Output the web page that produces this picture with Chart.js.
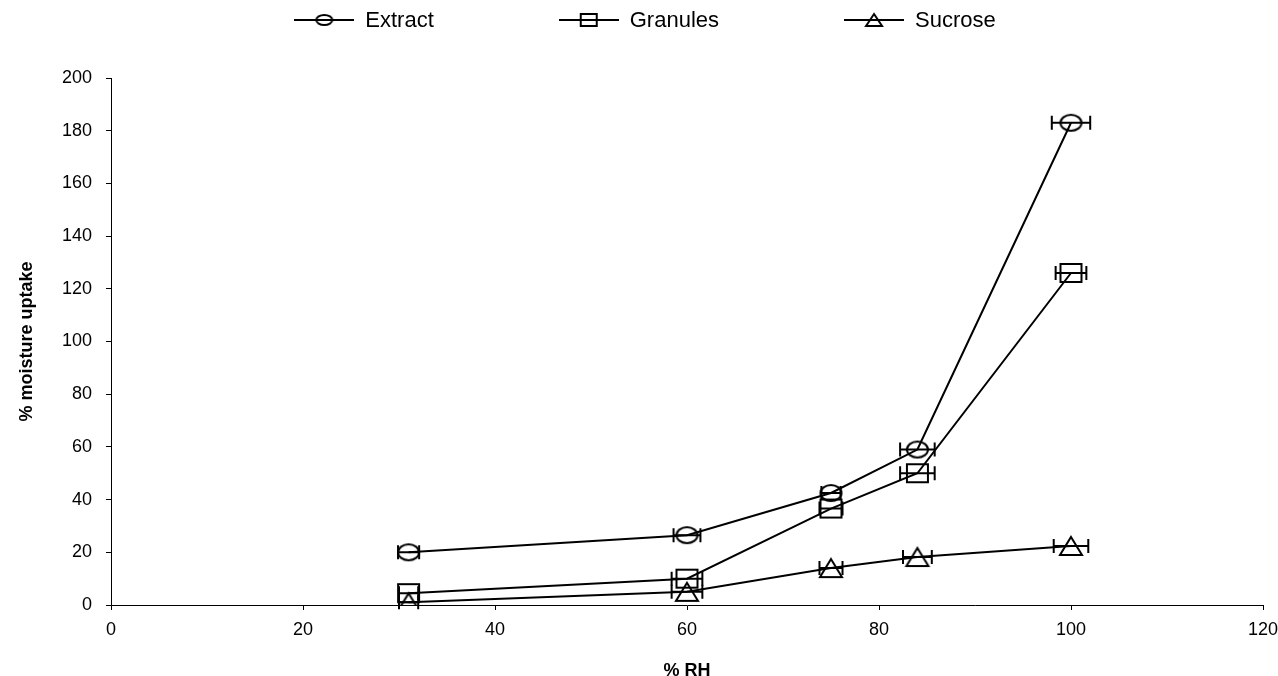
<!DOCTYPE html>
<html>
<head>
<meta charset="utf-8">
<script src="https://cdn.jsdelivr.net/npm/chart.js@4.4.1/dist/chart.umd.min.js"></script>
<style>
html,body{margin:0;padding:0;background:#fff;}
#wrap{width:1278px;height:676px;position:relative;}
</style>
</head>
<body>
<div id="wrap"><canvas id="c" width="1278" height="676"></canvas></div>
<script>
// ---- data ----
const rhValues = [31, 60, 75, 84, 100];
const extractUptake = [20, 26.5, 42.5, 59, 183];
const granulesUptake = [4.5, 10, 36.6, 50, 126];
const sucroseUptake = [1, 5, 14, 18.2, 22.4];
const extractRhErr = [1.1, 1.4, 1.0, 1.8, 2.0];
const granulesRhErr = [1.0, 1.6, 1.2, 1.8, 1.6];
const sucroseRhErr = [1.0, 1.6, 1.2, 1.5, 1.8];
const seriesLabels = ['Extract', 'Granules', 'Sucrose'];
const xTickValues = [0, 20, 40, 60, 80, 100, 120];
const yTickValues = [0, 20, 40, 60, 80, 100, 120, 140, 160, 180, 200];

const FONT = '"Liberation Sans", Arial, sans-serif';

function makeMarker(shape, w, h, lw, lineLen) {
  const cw = lineLen || (w + lw * 2 + 2);
  const ch = h + lw * 2 + 2;
  const cv = document.createElement('canvas');
  cv.width = cw; cv.height = ch;
  const g = cv.getContext('2d');
  g.strokeStyle = '#000';
  g.lineWidth = lw;
  const cx = cw / 2, cy = ch / 2;
  if (lineLen) {
    g.beginPath(); g.moveTo(0, cy); g.lineTo(cw, cy); g.stroke();
  }
  g.beginPath();
  if (shape === 'ellipse') {
    g.ellipse(cx, cy, w / 2, h / 2, 0, 0, Math.PI * 2);
  } else if (shape === 'rect') {
    g.rect(cx - w / 2, cy - h / 2, w, h);
  } else {
    g.moveTo(cx, cy - h / 2);
    g.lineTo(cx + w / 2, cy + h / 2);
    g.lineTo(cx - w / 2, cy + h / 2);
    g.closePath();
  }
  g.stroke();
  return cv;
}

const plotMarkers = [makeMarker('ellipse', 21, 16, 2), makeMarker('rect', 21, 18, 2), makeMarker('triangle', 22, 18, 2)];
const legendMarkers = [makeMarker('ellipse', 16, 10, 2, 60), makeMarker('rect', 16, 12, 2, 60), makeMarker('triangle', 16, 12, 2, 60)];

function pts(ys) { return rhValues.map((x, i) => ({x: x, y: ys[i]})); }

const errArrays = [extractRhErr, granulesRhErr, sucroseRhErr];
const valueArrays = [extractUptake, granulesUptake, sucroseUptake];

const datasets = seriesLabels.map((lab, i) => ({
  label: lab,
  data: pts(valueArrays[i]),
  borderColor: '#000',
  backgroundColor: 'transparent',
  borderWidth: 2,
  tension: 0,
  pointStyle: plotMarkers[i],
  pointRadius: 10,
  pointHoverRadius: 10,
  xErr: errArrays[i],
  legendMarker: legendMarkers[i]
}));

const errorBarPlugin = {
  id: 'xErrorBars',
  afterDatasetsDraw(chart) {
    const ctx = chart.ctx;
    const xs = chart.scales.x;
    ctx.save();
    ctx.strokeStyle = '#000';
    ctx.lineWidth = 2;
    chart.data.datasets.forEach((ds, di) => {
      const meta = chart.getDatasetMeta(di);
      ds.data.forEach((p, j) => {
        const e = ds.xErr[j];
        const y = meta.data[j].y;
        const x1 = xs.getPixelForValue(p.x - e);
        const x2 = xs.getPixelForValue(p.x + e);
        ctx.beginPath();
        ctx.moveTo(x1, y); ctx.lineTo(x2, y);
        ctx.moveTo(x1, y - 7); ctx.lineTo(x1, y + 7);
        ctx.moveTo(x2, y - 7); ctx.lineTo(x2, y + 7);
        ctx.stroke();
      });
    });
    ctx.restore();
  }
};

const legendPlugin = {
  id: 'lineLegend',
  afterDraw(chart) {
    const ctx = chart.ctx;
    ctx.save();
    ctx.font = '22px ' + FONT;
    ctx.fillStyle = '#000';
    ctx.textBaseline = 'middle';
    ctx.textAlign = 'left';
    const lineLen = 60, gap = 11, itemGap = 125;
    const items = chart.data.datasets.map(ds => ({text: ds.label, img: ds.legendMarker, w: ctx.measureText(ds.label).width}));
    let total = 0;
    items.forEach((it, i) => { total += lineLen + gap + it.w + (i < items.length - 1 ? itemGap : 0); });
    let x = 645 - total / 2;
    const cy = 20;
    items.forEach(it => {
      ctx.drawImage(it.img, x, cy - it.img.height / 2);
      ctx.fillText(it.text, x + lineLen + gap, cy + 1);
      x += lineLen + gap + it.w + itemGap;
    });
    ctx.restore();
  }
};

new Chart(document.getElementById('c'), {
  type: 'line',
  data: { datasets: datasets },
  plugins: [errorBarPlugin, legendPlugin],
  options: {
    responsive: false,
    animation: false,
    events: [],
    layout: { padding: { top: 78, right: 0, left: 0, bottom: 0 } },
    plugins: { legend: { display: false }, tooltip: { enabled: false } },
    scales: {
      x: {
        type: 'linear',
        min: 0, max: 120,
        afterBuildTicks(s) { s.ticks = xTickValues.map(v => ({value: v})); },
        afterFit(s) { s.height = 71; s.paddingRight = 15; s.paddingLeft = 0; },
        grid: { display: true, drawOnChartArea: false, drawTicks: true, tickLength: 5, color: '#000', lineWidth: 1 },
        border: { display: true, color: '#000', width: 1 },
        ticks: { color: '#000', font: { family: FONT, size: 18 }, padding: 9, maxRotation: 0 },
        title: { display: true, text: '% RH', color: '#000', font: { family: FONT, size: 18, weight: 'bold', lineHeight: 0.6 }, padding: { top: 0, bottom: 0 } }
      },
      y: {
        type: 'linear',
        min: 0, max: 200,
        afterBuildTicks(s) { s.ticks = yTickValues.map(v => ({value: v})); },
        afterFit(s) { s.width = 111; },
        grid: { display: true, drawOnChartArea: false, drawTicks: true, tickLength: 5, color: '#000', lineWidth: 1 },
        border: { display: true, color: '#000', width: 1 },
        ticks: { color: '#000', font: { family: FONT, size: 18 }, padding: 14 },
        title: { display: true, text: '% moisture uptake', color: '#000', font: { family: FONT, size: 18, weight: 'bold', lineHeight: 1.2 }, padding: { top: 16, bottom: 0 } }
      }
    }
  }
});
</script>
</body>
</html>
